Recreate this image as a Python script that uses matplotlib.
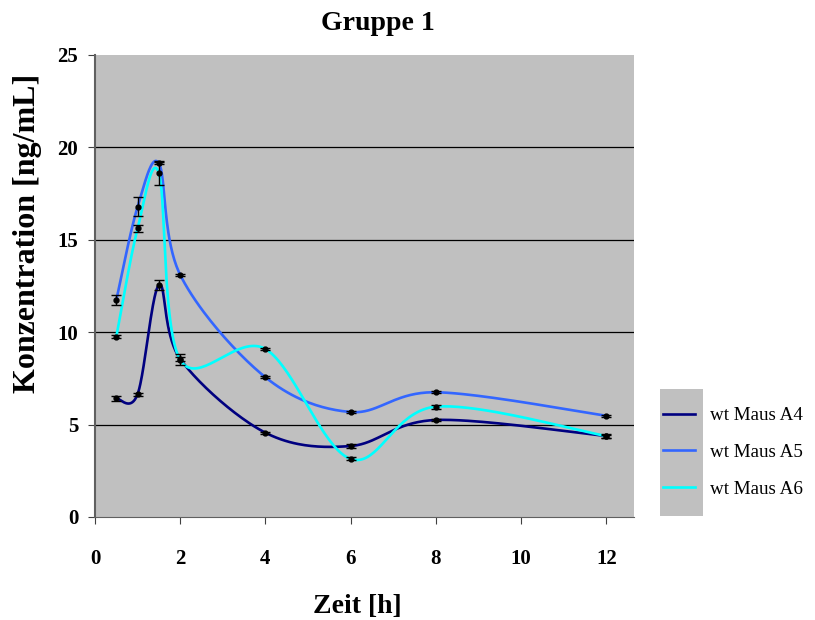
import matplotlib
matplotlib.use('Agg')
import matplotlib.pyplot as plt
from matplotlib.patches import Rectangle
import numpy as np

# Messzeitpunkte [h]
zeit = [0.5, 1, 1.5, 2, 4, 6, 8, 12]

# Konzentration [ng/mL] je Maus
a4 = [6.42, 6.65, 12.55, 8.55, 4.56, 3.84, 5.25, 4.38]
a5 = [11.74, 16.79, 19.14, 13.10, 7.56, 5.68, 6.75, 5.48]
a6 = [9.76, 15.62, 18.60, 8.50, 9.09, 3.14, 5.97, 4.38]

# Fehlerbalken
a4_err = [0.12, 0.08, 0.25, 0.1, 0.06, 0.1, 0.08, 0.1]
a5_err = [0.25, 0.5, 0.05, 0.05, 0.05, 0.05, 0.05, 0.05]
a6_err = [0.08, 0.2, 0.65, 0.3, 0.05, 0.08, 0.1, 0.08]

labels = ['wt Maus A4', 'wt Maus A5', 'wt Maus A6']
farben = ['#000080', '#3366FF', '#00FFFF']


def glatt(x, y, n=40):
    # geglaettete Linie wie in Excel (Catmull-Rom / Bezier)
    p = np.column_stack([x, y]).astype(float)
    p = np.vstack([p[0], p, p[-1]])
    t = np.linspace(0, 1, n)[:, None]
    out = []
    for i in range(1, len(p) - 2):
        p0, p1, p2, p3 = p[i - 1], p[i], p[i + 1], p[i + 2]
        c1 = p1 + (p2 - p0) / 6
        c2 = p2 - (p3 - p1) / 6
        seg = ((1 - t) ** 3 * p1 + 3 * (1 - t) ** 2 * t * c1
               + 3 * (1 - t) * t ** 2 * c2 + t ** 3 * p2)
        out.append(seg)
    out = np.vstack(out)
    return out[:, 0], out[:, 1]


plt.rcParams['font.family'] = 'Liberation Serif'
fig = plt.figure(figsize=(8.15, 6.2), dpi=100)
ax = fig.add_axes([95 / 815, 103 / 620, 539 / 815, 462 / 620])
ax.set_facecolor('#C0C0C0')

handles = []
for werte, fehler, farbe, lab in zip([a4, a5, a6], [a4_err, a5_err, a6_err], farben, labels):
    gx, gy = glatt(zeit, werte)
    h, = ax.plot(gx, gy, color=farbe, lw=1.9, label=lab, zorder=3)
    handles.append(h)
    ax.errorbar(zeit, werte, yerr=fehler, fmt='o', color='black', ms=3.5,
                elinewidth=1, capsize=3.5, capthick=1, zorder=4)

ax.set_xlim(0, 12.65)
ax.set_ylim(0, 25)
ax.set_xticks([0, 2, 4, 6, 8, 10, 12])
ax.set_yticks([0, 5, 10, 15, 20, 25])
for yy in [5, 10, 15, 20]:
    ax.axhline(yy, color='black', lw=0.9, zorder=1)

for s in ['top', 'right']:
    ax.spines[s].set_visible(False)
ax.spines['left'].set_color('#606060')
ax.spines['bottom'].set_color('#606060')
ax.spines['left'].set_linewidth(1.5)
ax.tick_params(axis='both', direction='out', length=5, color='#404040')
ax.tick_params(axis='x', pad=18)
ax.tick_params(axis='y', pad=7)
for lbl in ax.get_xticklabels() + ax.get_yticklabels():
    lbl.set_fontweight('bold')
    lbl.set_fontsize(15)

ax.set_title('Gruppe 1', fontsize=20, fontweight='bold', pad=18,
             x=(378 - 95) / 539)
ax.set_xlabel('Zeit [h]', fontsize=20, fontweight='bold')
ax.xaxis.set_label_coords((357 - 95) / 539, -(594 - 517) / 462)
ax.set_ylabel('Konzentration [ng/mL]', fontsize=23, fontweight='bold')
ax.yaxis.set_label_coords(-(95 - 42) / 539, (517 - 233) / 462)

# grauer Kasten hinter den Legendenlinien
fig.add_artist(Rectangle((660 / 815, 104 / 620), 43 / 815, 127 / 620,
                         transform=fig.transFigure, facecolor='#C0C0C0',
                         edgecolor='none', zorder=0))
fig.legend(handles=handles, labels=labels, loc='upper left',
           bbox_to_anchor=(663 / 815, 1 - 407 / 620), frameon=False,
           fontsize=13.7, handlelength=1.7, handletextpad=0.75,
           labelspacing=1.02, borderpad=0, borderaxespad=0)

plt.savefig('out.png', dpi=100)
